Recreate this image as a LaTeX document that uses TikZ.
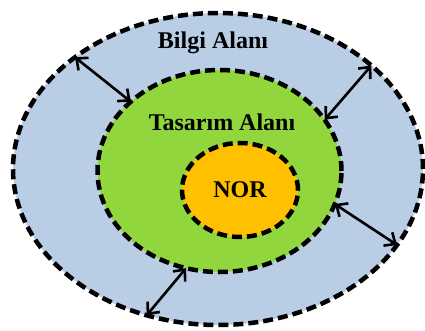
\documentclass[tikz,border=0pt]{standalone}
\usepackage{fontspec}
\setmainfont{Liberation Serif}
\usepackage{tikz}
\usetikzlibrary{shapes.geometric}
\usetikzlibrary{arrows.meta, positioning}

\definecolor{bilgiblue}{RGB}{185,205,229}
\definecolor{tasarimgreen}{RGB}{146,214,62}
\definecolor{nororange}{RGB}{255,192,0}

\begin{document}
\begin{tikzpicture}[x=1pt, y=1pt,
	area/.style={ellipse, draw=black, line width=4.5pt, dash pattern=on 10pt off 5pt, inner sep=0pt, outer sep=0pt},
	label text/.style={font=\fontsize{24}{28}\selectfont\bfseries},
	gap/.style={{Straight Barb[length=9pt,width=16pt]}-{Straight Barb[length=9pt,width=16pt]}, line width=2.6pt}]

	% Frame
	\useasboundingbox (0, 0) rectangle (425, 330);

	% Dimensions
	\def\bilgiwidth{410}
	\def\bilgiheight{312}
	\def\tasarimwidth{244}
	\def\tasarimheight{202}

	% Bilgi Alani
	\node[area, fill=bilgiblue, minimum width=\bilgiwidth, minimum height=\bilgiheight] (bilgi) at (218, 161) {};
	\node[label text] (bilgilabel) at (213, 287) {Bilgi Alanı};

	% Tasarim Alani
	\node[area, fill=tasarimgreen, minimum width=\tasarimwidth, minimum height=\tasarimheight] (tasarim) at (219.5, 159) {};
	\node[label text] (tasarimlabel) at (222, 208) {Tasarım Alanı};

	% NOR
	\node[area, fill=nororange, minimum width=116, minimum height=94, label text] (nor) at (240, 140) {NOR};

	% Distances between the areas
	\draw[gap] (bilgi.142) -- (tasarim.142);
	\draw[gap] (bilgi.34) -- (tasarim.26);
	\draw[gap] (tasarim.-16) -- (bilgi.-23);
	\draw[gap] (tasarim.-109) -- (bilgi.-116);

\end{tikzpicture}
\end{document}
